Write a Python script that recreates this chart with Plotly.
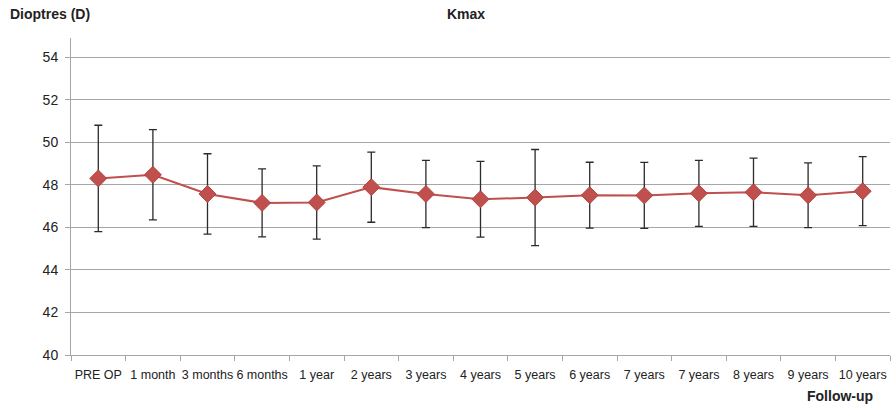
import plotly.graph_objects as go

# Follow-up visits and Kmax measurements (mean ± SD, dioptres)
visits = ["PRE OP", "1 month", "3 months", "6 months", "1 year", "2 years",
          "3 years", "4 years", "5 years", "6 years", "7 years", "7 years",
          "8 years", "9 years", "10 years"]
kmax_mean = [48.30, 48.47, 47.57, 47.15, 47.17, 47.89, 47.57, 47.32, 47.40,
             47.51, 47.50, 47.60, 47.65, 47.51, 47.70]
kmax_sd = [2.50, 2.12, 1.89, 1.60, 1.72, 1.65, 1.58, 1.78, 2.26,
           1.55, 1.55, 1.55, 1.60, 1.52, 1.62]
y_ticks = [40, 42, 44, 46, 48, 50, 52, 54]

pos = list(range(len(visits)))
red = "#c0504d"
grid = "#a6a6a6"
font = "Liberation Sans, Arial, sans-serif"

W, H = 893, 406
ML, MR, MT, MB = 71, 3, 38, 51


def px_to_paper(x, y):
    return (x - ML) / (W - ML - MR), 1 - (y - MT) / (H - MT - MB)


fig = go.Figure(go.Scatter(
    x=pos, y=kmax_mean,
    mode="lines+markers",
    line=dict(color=red, width=2),
    marker=dict(symbol="diamond", size=13, color=red,
                line=dict(color="#b2413e", width=1)),
    error_y=dict(type="data", array=kmax_sd, visible=True,
                 color="#2b2b2b", thickness=1.3, width=4),
    showlegend=False,
))

annots = []
for text, (px, py), anchor in [("<b>Kmax</b>", (466, 14), "center"),
                               ("<b>Dioptres (D)</b>", (8, 14), "left"),
                               ("<b>Follow-up</b>", (840, 396), "center")]:
    ax, ay = px_to_paper(px, py)
    annots.append(dict(text=text, x=ax, y=ay, xref="paper", yref="paper",
                       xanchor=anchor, yanchor="middle", showarrow=False,
                       font=dict(size=14, color="#222")))

fig.update_layout(
    width=W, height=H,
    margin=dict(l=ML, r=MR, t=MT, b=MB),
    paper_bgcolor="white", plot_bgcolor="white",
    font=dict(family=font, size=13, color="#222222"),
    annotations=annots,
)

fig.update_xaxes(
    range=[-0.5, len(visits) - 0.5],
    tickmode="array", tickvals=pos, ticktext=visits,
    tickangle=0, ticklabelstandoff=8,
    ticks="", showgrid=False, zeroline=False,
    showline=True, linecolor=grid, linewidth=1,
    tickfont=dict(size=12.5, color="#222"),
    minor=dict(tickmode="array",
               tickvals=[p - 0.5 for p in pos] + [len(visits) - 0.5],
               ticks="outside", ticklen=5, tickcolor=grid, showgrid=False),
)
fig.update_yaxes(
    range=[40, 54.9],
    tickmode="array", tickvals=y_ticks,
    ticks="outside", ticklen=5, tickcolor=grid, ticklabelstandoff=4,
    showgrid=True, gridcolor=grid, gridwidth=1,
    zeroline=False, showline=True, linecolor=grid, linewidth=1,
    tickfont=dict(size=14, color="#222"),
)

fig.write_html("out.html")
